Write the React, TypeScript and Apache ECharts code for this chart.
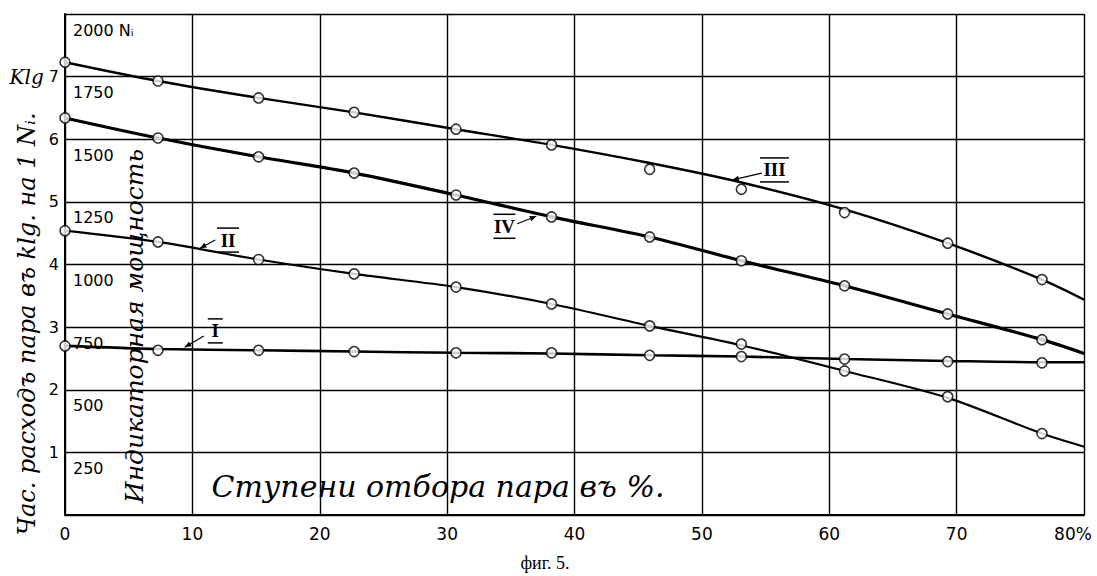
import React, { useEffect, useRef } from "react";
import * as echarts from "echarts";

// Extraction stage (%) at which the measured points were taken
const measuredX = [0, 7.3, 15.2, 22.7, 30.7, 38.2, 45.9, 53.1, 61.2, 69.3, 76.7];
// Measured points (kg of steam per 1 Ni per hour)
const pointsI = [2.7, 2.63, 2.63, 2.61, 2.59, 2.59, 2.55, 2.53, 2.49, 2.45, 2.43];
const pointsII = [4.54, 4.36, 4.08, 3.85, 3.64, 3.37, 3.02, 2.73, 2.3, 1.89, 1.3];
const pointsIII = [7.23, 6.93, 6.66, 6.43, 6.16, 5.91, 5.52, 5.2, 4.83, 4.34, 3.76];
const pointsIV = [6.34, 6.02, 5.72, 5.46, 5.11, 4.76, 4.44, 4.06, 3.66, 3.21, 2.8];

// Drawn (faired) curves
const curveX = [0, 7.3, 15.2, 22.7, 30.7, 38.2, 45.9, 53.1, 61.2, 69.3, 76.7, 80];
const curveI = [2.7, 2.65, 2.63, 2.61, 2.59, 2.58, 2.55, 2.53, 2.49, 2.46, 2.44, 2.44];
const curveII = [4.54, 4.36, 4.08, 3.85, 3.64, 3.37, 3.02, 2.71, 2.3, 1.87, 1.3, 1.09];
const curveIII = [7.23, 6.93, 6.66, 6.43, 6.16, 5.91, 5.62, 5.31, 4.88, 4.34, 3.76, 3.44];
const curveIV = [6.34, 6.02, 5.72, 5.46, 5.11, 4.76, 4.44, 4.06, 3.66, 3.21, 2.8, 2.58];

// Axis ticks
const xMin = 0;
const xMax = 80;
const xStep = 10;
const yMin = 0;
const yMax = 8;
const yStep = 1;
const niPerKg = 250;

// Curve labels (roman numerals) with their arrows, in data coordinates
const annotationLabels = ["I", "II", "III", "IV"];
const annotationAnchors = [
  [11.8, 2.94],
  [12.8, 4.39],
  [55.7, 5.51],
  [34.5, 4.61],
];
const arrowFrom = [
  [10.9, 2.86],
  [11.8, 4.39],
  [54.7, 5.46],
  [35.5, 4.65],
];
const arrowTo = [
  [9.4, 2.68],
  [10.6, 4.26],
  [52.4, 5.35],
  [37.0, 4.77],
];

const yTitle = "Час. расходъ пара въ klg. на 1 Nᵢ.";
const innerYTitle = "Индикаторная мощность";
const xTitle = "Ступени отбора пара въ %.";
const caption = "фиг. 5.";

const CURSIVE = '"DejaVu Serif", serif';
const NUM = '"DejaVu Sans", sans-serif';

export default function App() {
  const ref = useRef<HTMLDivElement>(null);

  useEffect(() => {
    if (!ref.current) return;
    const chart = echarts.init(ref.current, null, { renderer: "svg" });

    const pair = (xs: number[], ys: number[]) => xs.map((x, i) => [x, ys[i]]);

    const lineSeries = (name: string, xs: number[], ys: number[], w: number) => ({
      name,
      type: "line",
      data: pair(xs, ys),
      smooth: 0.3,
      showSymbol: false,
      symbol: "none",
      lineStyle: { color: "#000", width: w },
      z: 3,
    });
    const pointSeries = (name: string, xs: number[], ys: number[]) => ({
      name,
      type: "scatter",
      data: pair(xs, ys),
      symbol: "circle",
      symbolSize: 10,
      itemStyle: { color: "#fff", borderColor: "#000", borderWidth: 1.6 },
      z: 5,
    });

    const annData = annotationAnchors.map((a, i) => [
      a[0],
      a[1],
      arrowFrom[i][0],
      arrowFrom[i][1],
      arrowTo[i][0],
      arrowTo[i][1],
    ]);

    const option: any = {
      animation: false,
      backgroundColor: "#fff",
      grid: { left: 65, right: 13, top: 14, bottom: 61, containLabel: false },
      xAxis: {
        type: "value",
        min: xMin,
        max: xMax,
        interval: xStep,
        axisLine: { show: true, lineStyle: { color: "#000", width: 2 } },
        axisTick: { show: false },
        splitLine: { show: true, lineStyle: { color: "#000", width: 1.4 } },
        axisLabel: {
          color: "#000",
          fontFamily: NUM,
          fontSize: 17,
          margin: 10,
          formatter: (v: number) => (v === xMax ? "{p|" + v + "%}" : String(v)),
          rich: { p: { fontFamily: NUM, fontSize: 17, color: "#000", padding: [0, 22, 0, 0] } },
        },
      },
      yAxis: [
        {
          type: "value",
          min: yMin,
          max: yMax,
          interval: yStep,
          position: "left",
          axisLine: { show: true, lineStyle: { color: "#000", width: 2 } },
          axisTick: { show: false },
          splitLine: { show: true, lineStyle: { color: "#000", width: 1.4 } },
          axisLabel: {
            color: "#000",
            fontFamily: NUM,
            fontSize: 16,
            margin: 6,
            formatter: (v: number) =>
              v === yMin || v === yMax ? "" : v === 7 ? "{k|Klg} 7" : String(v),
            rich: { k: { fontFamily: CURSIVE, fontStyle: "italic", fontSize: 20, color: "#000" } },
          },
        },
        {
          type: "value",
          min: yMin,
          max: yMax,
          interval: yStep,
          position: "left",
          axisLine: { show: false },
          axisTick: { show: false },
          splitLine: { show: false },
          axisLabel: {
            inside: true,
            color: "#000",
            fontFamily: NUM,
            fontSize: 16,
            margin: 8,
            verticalAlign: "top",
            padding: [8, 0, 0, 0],
            formatter: (v: number) =>
              v === yMin ? "" : v === yMax ? v * niPerKg + " Nᵢ" : String(v * niPerKg),
          },
        },
      ],
      series: [
        lineSeries("I", curveX, curveI, 2.6),
        lineSeries("II", curveX, curveII, 2.2),
        lineSeries("III", curveX, curveIII, 2.4),
        lineSeries("IV", curveX, curveIV, 3.2),
        pointSeries("I pts", measuredX, pointsI),
        pointSeries("II pts", measuredX, pointsII),
        pointSeries("III pts", measuredX, pointsIII),
        pointSeries("IV pts", measuredX, pointsIV),
        {
          type: "custom",
          name: "labels",
          data: annData,
          z: 6,
          renderItem: (params: any, api: any) => {
            const c = api.coord([api.value(0), api.value(1)]);
            const f = api.coord([api.value(2), api.value(3)]);
            const t = api.coord([api.value(4), api.value(5)]);
            const label = annotationLabels[params.dataIndex];
            const w = label.length * 7 + 8;
            const ang = Math.atan2(t[1] - f[1], t[0] - f[0]);
            const hs = 7;
            const p1 = [t[0] - hs * Math.cos(ang - 0.4), t[1] - hs * Math.sin(ang - 0.4)];
            const p2 = [t[0] - hs * Math.cos(ang + 0.4), t[1] - hs * Math.sin(ang + 0.4)];
            return {
              type: "group",
              children: [
                {
                  type: "text",
                  x: c[0],
                  y: c[1],
                  style: {
                    text: label,
                    fill: "#000",
                    font: 'bold 19px "Liberation Serif", serif',
                    align: "center",
                    verticalAlign: "middle",
                  },
                },
                {
                  type: "line",
                  shape: { x1: c[0] - w / 2, y1: c[1] - 12, x2: c[0] + w / 2, y2: c[1] - 12 },
                  style: { stroke: "#000", lineWidth: 1.5 },
                },
                {
                  type: "line",
                  shape: { x1: c[0] - w / 2, y1: c[1] + 12, x2: c[0] + w / 2, y2: c[1] + 12 },
                  style: { stroke: "#000", lineWidth: 1.5 },
                },
                {
                  type: "line",
                  shape: { x1: f[0], y1: f[1], x2: t[0], y2: t[1] },
                  style: { stroke: "#000", lineWidth: 1.2 },
                },
                {
                  type: "polygon",
                  shape: { points: [t, p1, p2] },
                  style: { fill: "#000" },
                },
              ],
            };
          },
        },
      ],
      graphic: [
        {
          type: "text",
          x: 27,
          y: 324,
          rotation: Math.PI / 2,
          z: 10,
          style: {
            text: yTitle,
            fill: "#000",
            font: "italic 24px " + CURSIVE,
            align: "center",
            verticalAlign: "middle",
          },
        },
        {
          type: "text",
          x: 134,
          y: 326,
          rotation: Math.PI / 2,
          z: 10,
          style: {
            text: innerYTitle,
            fill: "#000",
            font: "italic 25px " + CURSIVE,
            align: "center",
            verticalAlign: "middle",
          },
        },
        {
          type: "text",
          x: 438,
          y: 486,
          z: 10,
          style: {
            text: xTitle,
            fill: "#000",
            font: "italic 30px " + CURSIVE,
            align: "center",
            verticalAlign: "middle",
          },
        },
        {
          type: "text",
          x: 545,
          y: 563,
          z: 10,
          style: {
            text: caption,
            fill: "#000",
            font: '18px "Liberation Serif", serif',
            align: "center",
            verticalAlign: "middle",
          },
        },
      ],
    };

    chart.setOption(option);
    return () => chart.dispose();
  }, []);

  return (
    <div
      ref={ref}
      style={{ position: "fixed", left: 0, top: 0, width: 1097, height: 576, background: "#fff" }}
    />
  );
}
